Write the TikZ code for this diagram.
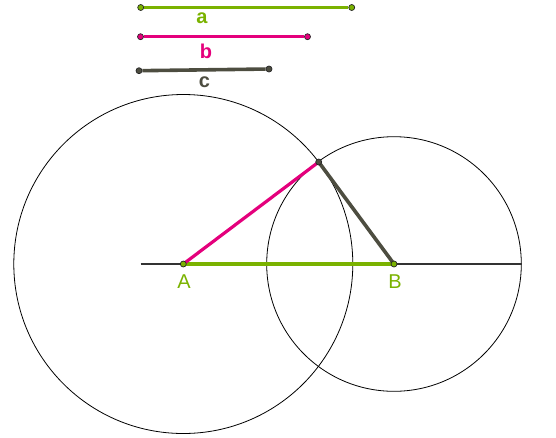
\documentclass[tikz,border=0pt]{standalone}
\usepackage{fontspec}
\setmainfont{Liberation Sans}
\definecolor{ggreen}{RGB}{122,178,0}
\definecolor{gpink}{RGB}{228,0,124}
\definecolor{ggray}{RGB}{77,77,64}
\begin{document}
\begin{tikzpicture}[x=1pt,y=-1pt,
  seg/.style={line width=3.2pt},
  dot/.style={circle,inner sep=0pt,minimum size=6pt,draw=black!85,line width=0.7pt},
  lbl/.style={font=\fontsize{20}{20}\selectfont\bfseries},
  plbl/.style={font=\fontsize{20}{20}\selectfont,text=ggreen}]
\useasboundingbox (0,0) rectangle (556,437);
% reference segments
\node[dot,fill=ggreen] (a1) at (140.7,7.5) {};
\node[dot,fill=ggreen] (a2) at (351.7,7.5) {};
\node[dot,fill=gpink] (b1) at (140.5,36.7) {};
\node[dot,fill=gpink] (b2) at (307.5,36.7) {};
\node[dot,fill=ggray] (c1) at (139,70.7) {};
\node[dot,fill=ggray] (c2) at (269,69) {};
\draw[seg,ggreen] (a1) -- (a2);
\draw[seg,gpink] (b1) -- (b2);
\draw[seg,ggray,line width=3.6pt] (c1) -- (c2);
\node[lbl,text=ggreen] (la) at (202,18.5) {a};
\node[lbl,text=gpink] (lb) at (206,51) {b};
\node[lbl,text=ggray] (lc) at (204.5,82) {c};
% construction
\coordinate (A) at (183.3,264);
\coordinate (B) at (394,264);
\coordinate (C) at (318.7,162);
\coordinate (L) at (140.7,264);
\coordinate (R) at (521.5,264);
\draw[line width=0.8pt] (A) circle[radius=169.5];
\draw[line width=0.8pt] (B) circle[radius=127.3];
\draw[line width=1.2pt,black!80] (L) -- (R);
\draw[seg,ggreen] (A) -- (B);
\draw[seg,gpink] (A) -- (C);
\draw[seg,ggray,line width=3.6pt] (C) -- (B);
\node[dot,fill=ggreen] (nA) at (A) {};
\node[dot,fill=ggreen] (nB) at (B) {};
\node[dot,fill=ggray] (nC) at (C) {};
\node[plbl] (lA) at (184,281.5) {A};
\node[plbl] (lB) at (395,281.5) {B};
\end{tikzpicture}
\end{document}
